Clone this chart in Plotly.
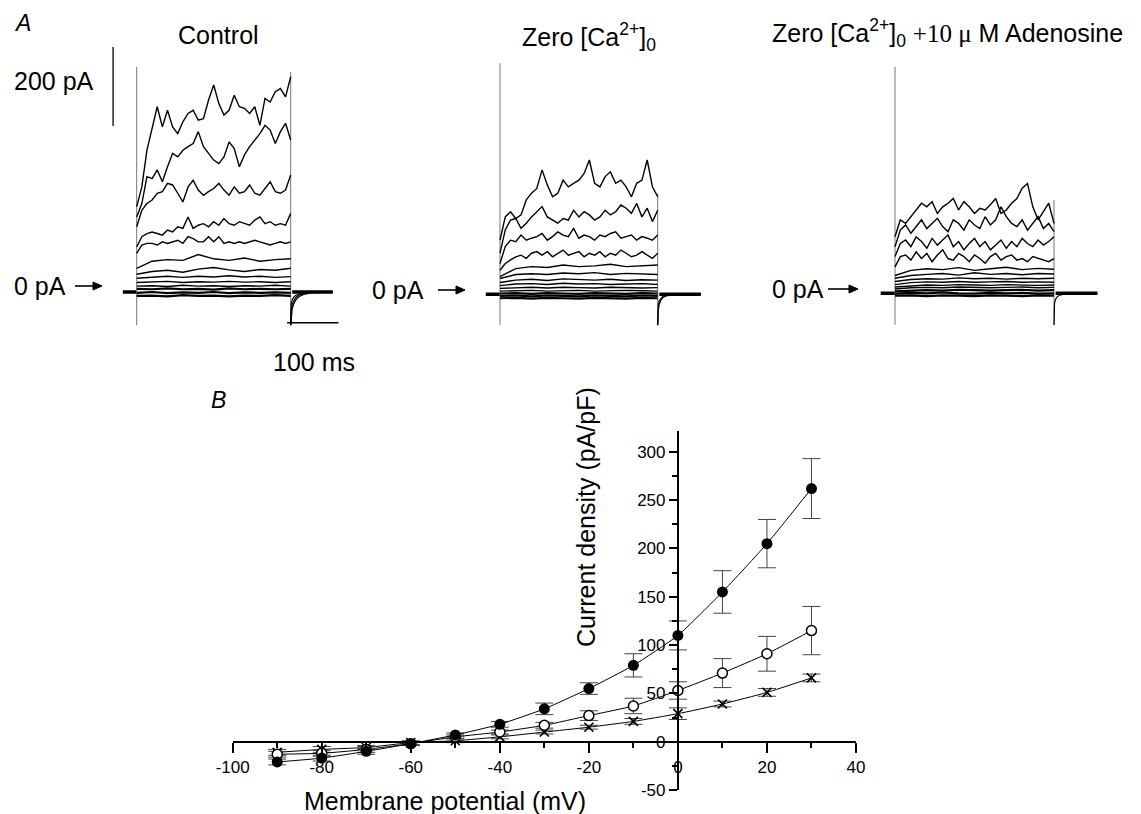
import plotly.graph_objects as go

W, H = 1141, 814
FONT = "Liberation Sans"

# ---------------- Panel B: current density vs membrane potential ----------------
V_MV = [-90, -80, -70, -60, -50, -40, -30, -20, -10, 0, 10, 20, 30]
CONTROL = [-21, -17, -10, -2, 7, 18, 34, 55, 79, 110, 155, 205, 262]
CONTROL_ERR = [3, 3, 3, 2, 2, 3, 6, 6, 12, 15, 22, 25, 31]
ZERO_CA = [-13, -12, -8, -2, 5, 10, 17, 27, 37, 53, 71, 91, 115]
ZERO_CA_ERR = [3, 3, 3, 2, 2, 2, 3, 5, 8, 9, 15, 18, 25]
ZERO_CA_ADO = [-11, -8, -6, -1, 1, 5, 10, 15, 21, 29, 39, 51, 66]
ZERO_CA_ADO_ERR = [3, 3, 2, 2, 2, 2, 2, 2, 3, 6, 3, 4, 4]

X_TICKS = [-100, -80, -60, -40, -20, 0, 20, 40]
X_MINOR = [-90, -70, -50, -30, -10, 10, 30]
Y_TICKS = [-50, 0, 50, 100, 150, 200, 250, 300]
Y_MINOR = [-25, 25, 75, 125, 175, 225, 275]

# ---------------- Panel A: current traces (pA) ----------------
T_FINE = list(range(0, 301, 10))      # sample times (ms) of the larger traces
T_COARSE = list(range(0, 301, 30))    # sample times (ms) of the small traces
PRE_T = [-27, 0]
TAIL_T = [300, 301, 303, 306, 310, 316, 325, 340, 382]

CTRL_FINE = [
    [216, 266, 359, 418, 469, 418, 460, 418, 401, 431, 452, 460, 435, 439, 486, 524,
     477, 448, 460, 498, 469, 465, 452, 469, 422, 490, 481, 507, 515, 494, 545],
    [190, 224, 292, 287, 309, 279, 317, 351, 342, 359, 368, 376, 406, 368, 351, 334,
     325, 342, 380, 363, 317, 347, 368, 385, 401, 422, 410, 376, 406, 427, 385],
    [165, 207, 224, 233, 250, 254, 275, 271, 250, 228, 266, 283, 258, 245, 254, 262,
     275, 258, 245, 266, 250, 254, 271, 250, 245, 262, 279, 254, 250, 258, 296],
    [114, 140, 148, 152, 148, 144, 157, 152, 165, 161, 190, 161, 169, 173, 165, 178,
     169, 186, 173, 169, 178, 173, 169, 182, 190, 173, 178, 169, 173, 169, 199],
    [98, 119, 123, 123, 119, 127, 123, 127, 131, 123, 140, 135, 127, 127, 140, 127,
     140, 123, 127, 123, 127, 123, 127, 131, 127, 123, 119, 123, 127, 123, 127],
]
CTRL_COARSE = [
    [60, 78, 82, 80, 95, 84, 80, 86, 78, 82, 84],
    [45, 52, 55, 50, 58, 62, 56, 52, 57, 55, 60],
    [35, 38, 40, 37, 40, 38, 41, 38, 40, 37, 39],
    [24, 25, 27, 24, 26, 25, 27, 25, 26, 24, 26],
    [15, 16, 14, 17, 15, 16, 14, 16, 15, 17, 15],
    [8, 7, 9, 7, 8, 6, 9, 7, 8, 7, 8],
    [-2, 0, -3, -1, -2, 0, -3, -1, -2, -1, -2],
    [-10, -9, -11, -8, -10, -9, -11, -9, -10, -8, -10],
]
CTRL_TAILS = [
    [-84, -58, -42, -30, -20, -12, -6, -2, 0],
    [-84, -45, -32, -22, -14, -8, -4, -1, 0],
    [-84, -30, -20, -13, -8, -5, -2, 0, 0],
]

ZCA_FINE = [
    [137, 196, 209, 192, 201, 239, 256, 268, 315, 277, 247, 256, 289, 272, 281, 289,
     306, 340, 281, 272, 298, 310, 281, 289, 272, 247, 281, 289, 340, 272, 247],
    [104, 163, 188, 192, 167, 180, 196, 209, 222, 196, 188, 180, 192, 188, 213, 196,
     209, 201, 188, 196, 213, 201, 209, 226, 218, 205, 230, 196, 218, 184, 213],
    [78, 121, 137, 133, 150, 137, 142, 146, 154, 137, 146, 158, 150, 146, 167, 142,
     150, 146, 137, 150, 146, 154, 158, 142, 146, 150, 137, 146, 142, 137, 150],
    [61, 78, 87, 95, 99, 91, 104, 108, 99, 108, 95, 104, 112, 99, 104, 108,
     95, 104, 99, 108, 95, 104, 99, 112, 104, 95, 99, 108, 99, 91, 104],
]
ZCA_COARSE = [
    [45, 65, 70, 68, 74, 70, 72, 76, 70, 72, 74],
    [40, 50, 52, 50, 54, 52, 55, 50, 53, 52, 50],
    [30, 36, 38, 35, 39, 37, 36, 38, 35, 37, 36],
    [22, 26, 27, 25, 28, 26, 27, 25, 26, 27, 25],
    [15, 17, 18, 16, 18, 17, 16, 18, 17, 16, 17],
    [8, 9, 10, 8, 9, 10, 8, 9, 10, 9, 8],
    [2, 3, 1, 3, 2, 1, 3, 2, 1, 3, 2],
    [-4, -3, -5, -3, -4, -5, -3, -4, -5, -3, -4],
    [-10, -9, -11, -9, -10, -11, -9, -10, -11, -9, -10],
]
ZCA_TAILS = [
    [-78, -40, -25, -15, -8, -4, -2, 0, 0],
    [-78, -26, -16, -10, -5, -3, -1, 0, 0],
]

ADO_FINE = [
    [143, 186, 177, 194, 211, 228, 219, 232, 202, 219, 228, 240, 211, 232, 219, 202,
     215, 211, 224, 240, 202, 211, 228, 240, 266, 278, 219, 186, 207, 228, 177],
    [118, 160, 173, 152, 169, 186, 164, 177, 190, 169, 156, 186, 177, 160, 186, 173,
     164, 194, 173, 186, 219, 194, 177, 169, 186, 160, 177, 194, 164, 177, 156],
    [93, 126, 135, 118, 143, 131, 114, 139, 122, 135, 148, 118, 131, 110, 126, 139,
     118, 131, 110, 122, 135, 114, 131, 118, 139, 126, 118, 135, 122, 131, 143],
    [67, 93, 97, 84, 105, 88, 101, 80, 97, 110, 88, 84, 101, 93, 80, 97,
     88, 76, 93, 101, 84, 93, 97, 84, 88, 80, 93, 88, 84, 80, 88],
]
ADO_COARSE = [
    [45, 58, 62, 60, 65, 58, 62, 66, 60, 63, 61],
    [38, 45, 48, 50, 46, 52, 48, 50, 47, 50, 49],
    [30, 35, 37, 36, 39, 37, 38, 36, 38, 37, 38],
    [22, 27, 29, 28, 30, 28, 29, 30, 28, 29, 28],
    [16, 19, 21, 20, 22, 21, 20, 22, 21, 20, 21],
    [11, 14, 15, 14, 16, 15, 14, 15, 16, 14, 15],
    [5, 7, 8, 7, 9, 8, 7, 8, 9, 7, 8],
    [-1, 1, 0, 2, 0, -1, 1, 0, 1, -1, 0],
    [-6, -5, -7, -5, -6, -7, -5, -6, -7, -5, -6],
]
ADO_TAILS = [
    [-80, -25, -15, -9, -5, -3, -1, 0, 0],
]

# capacitive transients at step onset / offset: (low, high) in pA
CAP_START = [(-84, 570), (-78, 585), (-80, 573)]
CAP_END = [(-84, 557), (-78, 255), (-80, 236)]

SCALE_PA = 200
SCALE_MS = 100

# ---------------- geometry helpers ----------------
def xdom(left, right):
    return [left / W, right / W]


def ydom(top, bottom):
    return [1 - bottom / H, 1 - top / H]


# per recording: step onset (px), px per ms, zero-current level (px)
PANEL_GEOM = [(136.7, 0.5133, 292.0), (500.0, 0.5257, 294.3), (895.0, 0.530, 293.3)]
PX_PER_PA = 0.395
T_RANGE = [-60, 400]
I_RANGE = [-100, 700]

fig = go.Figure()
layout_axes = {}

panels = [
    (CTRL_FINE, CTRL_COARSE, CTRL_TAILS),
    (ZCA_FINE, ZCA_COARSE, ZCA_TAILS),
    (ADO_FINE, ADO_COARSE, ADO_TAILS),
]

for i, ((t0, s, base), (fine, coarse, tails)) in enumerate(zip(PANEL_GEOM, panels)):
    n = "" if i == 0 else str(i + 1)
    xa, ya = "x" + n, "y" + n
    layout_axes["xaxis" + n] = dict(
        domain=xdom(t0 + T_RANGE[0] * s, t0 + T_RANGE[1] * s),
        range=T_RANGE, visible=False, anchor=ya, fixedrange=True, automargin=False)
    layout_axes["yaxis" + n] = dict(
        domain=ydom(base - I_RANGE[1] * PX_PER_PA, base - I_RANGE[0] * PX_PER_PA),
        range=I_RANGE, visible=False, anchor=xa, fixedrange=True, automargin=False)

    # holding current before the step
    fig.add_trace(go.Scatter(x=PRE_T, y=[0, 0], mode="lines", xaxis=xa, yaxis=ya,
                             line=dict(color="black", width=3.5), hoverinfo="skip"))
    # capacitive transients
    lo, hi = CAP_START[i]
    fig.add_trace(go.Scatter(x=[0, 0], y=[lo, hi], mode="lines", xaxis=xa, yaxis=ya,
                             line=dict(color="#777", width=1), hoverinfo="skip"))
    lo, hi = CAP_END[i]
    fig.add_trace(go.Scatter(x=[300, 300], y=[lo, hi], mode="lines", xaxis=xa, yaxis=ya,
                             line=dict(color="#777", width=1), hoverinfo="skip"))
    for j, tr in enumerate(coarse):
        # the traces closest to the holding level overlap into a dark band
        w = 2.2 if j >= len(coarse) - 3 else 1.4
        fig.add_trace(go.Scatter(x=T_COARSE, y=tr, mode="lines", xaxis=xa, yaxis=ya,
                                 line=dict(color="black", width=w), hoverinfo="skip"))
    for tr in fine:
        fig.add_trace(go.Scatter(x=T_FINE, y=tr, mode="lines", xaxis=xa, yaxis=ya,
                                 line=dict(color="black", width=1.4), hoverinfo="skip"))
    for tr in tails:
        fig.add_trace(go.Scatter(x=TAIL_T, y=tr, mode="lines", xaxis=xa, yaxis=ya,
                                 line=dict(color="black", width=1.2), hoverinfo="skip"))
    # thick band of holding current after the step
    fig.add_trace(go.Scatter(x=[TAIL_T[2], TAIL_T[-1]], y=[0, 0], mode="lines",
                             xaxis=xa, yaxis=ya, line=dict(color="black", width=3.5),
                             hoverinfo="skip"))

# scale bars drawn in the Control recording's units
SCALE_T = -46
SCALE_I0 = 420
fig.add_shape(type="line", xref="x", yref="y", x0=SCALE_T, x1=SCALE_T,
              y0=SCALE_I0, y1=SCALE_I0 + SCALE_PA, line=dict(color="black", width=1.3))
fig.add_shape(type="line", xref="x", yref="y", x0=293, x1=293 + SCALE_MS,
              y0=-78, y1=-78, line=dict(color="black", width=1.5))

# ---------------- Panel B axes ----------------
B_LEFT, B_RIGHT = 232.7, 856.0
B_Y0, B_YTOP = 790.0, 430.6      # pixel rows of -50 and the axis top
B_ZERO_ROW = 741.7
B_ZERO_COL = 677.9
Y_RANGE = [-50, 322]
TICK_FONT = dict(family=FONT, size=17, color="black")

layout_axes["xaxis4"] = dict(
    domain=xdom(B_LEFT, B_RIGHT), range=[-100, 40], anchor="free",
    position=1 - B_ZERO_ROW / H, showline=True, linecolor="black", linewidth=2,
    ticks="outside", ticklen=10, tickwidth=1.8, tickcolor="black",
    tickmode="array", tickvals=X_TICKS, ticktext=[str(v) for v in X_TICKS],
    minor=dict(ticks="outside", ticklen=5, tickwidth=1.5, tickcolor="black",
               tickmode="array", tickvals=X_MINOR, showgrid=False),
    tickfont=TICK_FONT,
    showgrid=False, zeroline=False, fixedrange=True, automargin=False)
layout_axes["yaxis4"] = dict(
    domain=ydom(B_YTOP, B_Y0), range=Y_RANGE, anchor="free",
    position=B_ZERO_COL / W, side="left", showline=True, linecolor="black",
    linewidth=2, ticks="outside", ticklen=8, tickwidth=1.8, tickcolor="black",
    tickmode="array", tickvals=Y_TICKS, ticktext=[str(v) for v in Y_TICKS],
    minor=dict(ticks="outside", ticklen=5, tickwidth=1.5, tickcolor="black",
               tickmode="array", tickvals=Y_MINOR, showgrid=False),
    tickfont=TICK_FONT,
    showgrid=False, zeroline=False, fixedrange=True, automargin=False)

err_style = dict(type="data", visible=True, color="#444", thickness=1, width=9)

fig.add_trace(go.Scatter(
    x=V_MV, y=ZERO_CA_ADO, mode="lines+markers", xaxis="x4", yaxis="y4",
    line=dict(color="black", width=1, shape="spline", smoothing=0.5),
    marker=dict(symbol="x-thin-open", size=9, line=dict(color="black", width=1.6)),
    error_y=dict(array=ZERO_CA_ADO_ERR, **err_style), hoverinfo="skip"))
fig.add_trace(go.Scatter(
    x=V_MV, y=ZERO_CA, mode="lines+markers", xaxis="x4", yaxis="y4",
    line=dict(color="black", width=1, shape="spline", smoothing=0.5),
    marker=dict(symbol="circle", size=10, color="white", line=dict(color="black", width=1.5)),
    error_y=dict(array=ZERO_CA_ERR, **err_style), hoverinfo="skip"))
fig.add_trace(go.Scatter(
    x=V_MV, y=CONTROL, mode="lines+markers", xaxis="x4", yaxis="y4",
    line=dict(color="black", width=1, shape="spline", smoothing=0.5),
    marker=dict(symbol="circle", size=11, color="black", line=dict(color="black", width=0)),
    error_y=dict(array=CONTROL_ERR, **err_style), hoverinfo="skip"))

# ---------------- text ----------------
annotations = []


def label(text, px, py, size=25, xanchor="center", yanchor="middle", textangle=0,
          style="normal"):
    annotations.append(dict(
        text=text, x=px / W, y=1 - py / H, xref="paper", yref="paper",
        xanchor=xanchor, yanchor=yanchor, showarrow=False, textangle=textangle,
        font=dict(family=FONT, size=size, color="black", style=style)))


def arrow(x_tail, x_tip, py):
    # shaft plus a filled triangular head, in paper coordinates
    head_len, head_half = 9, 4
    fig.add_shape(type="line", xref="paper", yref="paper",
                  x0=x_tail / W, x1=(x_tip - head_len + 1) / W,
                  y0=1 - py / H, y1=1 - py / H, line=dict(color="black", width=1.6))
    path = (f"M {x_tip / W} {1 - py / H} "
            f"L {(x_tip - head_len) / W} {1 - (py - head_half) / H} "
            f"L {(x_tip - head_len) / W} {1 - (py + head_half) / H} Z")
    fig.add_shape(type="path", xref="paper", yref="paper", path=path,
                  fillcolor="black", line=dict(color="black", width=1))


label("A", 22, 23, size=23, style="italic")
label("B", 219, 400, size=23, style="italic")
label("Control", 218, 35)
label("Zero [Ca<sup>2+</sup>]<sub>0</sub>", 520, 37, xanchor="left")
label("Zero [Ca<sup>2+</sup>]<sub>0</sub> "
      "<span style=\"font-family:'Liberation Serif'\">+10 \u03bc</span> M Adenosine",
      770, 33, xanchor="left")
label("200 pA", 12, 81, xanchor="left")
label("100 ms", 314, 362)

for px_text, py, x_tail, x_tip in [(12, 286, 75, 102), (370, 290, 438, 465),
                                    (770, 289, 828, 858)]:
    label("0 pA", px_text, py, xanchor="left")
    arrow(x_tail, x_tip, py)

label("Membrane potential (mV)", 445, 801, size=25)
label("Current density (pA/pF)", 586, 517, size=25, textangle=-90)

fig.update_layout(
    template="none",
    width=W, height=H, margin=dict(l=0, r=0, t=0, b=0, pad=0, autoexpand=False),
    paper_bgcolor="white", plot_bgcolor="rgba(0,0,0,0)",
    showlegend=False, annotations=annotations, **layout_axes)

fig.write_html("out.html")
